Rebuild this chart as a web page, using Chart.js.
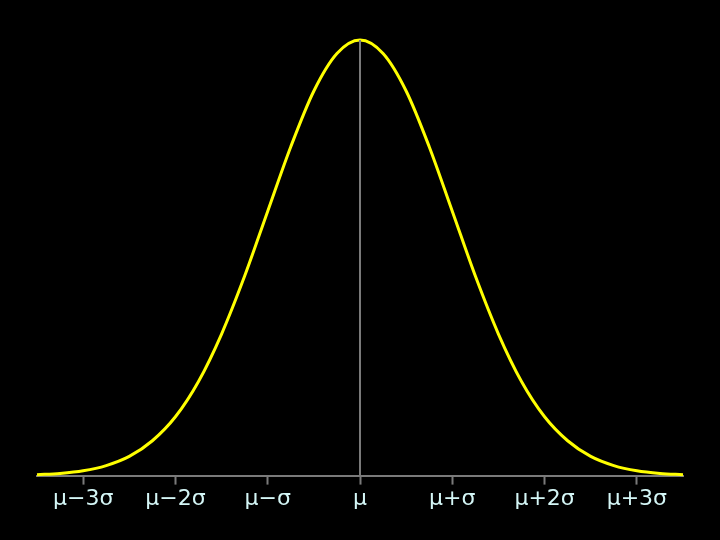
<!DOCTYPE html>
<html>
<head>
<meta charset="utf-8">
<script src="https://cdn.jsdelivr.net/npm/chart.js@4"></script>
<style>
  html, body { margin: 0; padding: 0; background: #000; }
  canvas { display: block; }
</style>
</head>
<body>
<canvas id="bellChart" width="720" height="540"></canvas>
<script>
// x in units of sigma, y relative to the peak height
const xValues = [-3.5, -3.25, -3.0, -2.75, -2.5, -2.25, -2.0, -1.75, -1.5, -1.25, -1.0, -0.75, -0.5, -0.25,
    0, 0.25, 0.5, 0.75, 1.0, 1.25, 1.5, 1.75, 2.0, 2.25, 2.5, 2.75, 3.0, 3.25, 3.5];
const yValues = [0.002, 0.005, 0.011, 0.023, 0.044, 0.080, 0.135, 0.216, 0.325, 0.458, 0.607, 0.755, 0.883, 0.969,
    1.0, 0.969, 0.883, 0.755, 0.607, 0.458, 0.325, 0.216, 0.135, 0.080, 0.044, 0.023, 0.011, 0.005, 0.002];
const tickValues = [-3, -2, -1, 0, 1, 2, 3];
const tickLabels = ['μ−3σ', 'μ−2σ', 'μ−σ', 'μ', 'μ+σ', 'μ+2σ', 'μ+3σ'];
const meanLineX = [0, 0];
const meanLineY = [0, 1];

const curvePoints = xValues.map((x, i) => ({ x: x, y: yValues[i] }));
const meanPoints = meanLineX.map((x, i) => ({ x: x, y: meanLineY[i] }));

const ctx = document.getElementById('bellChart').getContext('2d');
const bellChart = new Chart(ctx, {
    type: 'line',
    data: {
        datasets: [{
            data: meanPoints,
            borderColor: '#7a7a7a',
            borderWidth: 2,
            pointRadius: 0,
            clip: false
        }, {
            data: curvePoints,
            borderColor: '#ffff00',
            borderWidth: 3,
            pointRadius: 0,
            cubicInterpolationMode: 'monotone',
            clip: false
        }]
    },
    plugins: [{
        id: 'blackBg',
        beforeDraw(chart) {
            const c = chart.ctx;
            c.save();
            c.fillStyle = '#000';
            c.fillRect(0, 0, chart.width, chart.height);
            c.restore();
        }
    }],
    options: {
        responsive: false,
        animation: false,
        layout: { padding: { left: 37, right: 37, top: 40, bottom: 27 } },
        plugins: { legend: { display: false }, tooltip: { enabled: false } },
        scales: {
            x: {
                type: 'linear',
                min: -3.5,
                max: 3.5,
                afterBuildTicks(scale) {
                    scale.ticks = tickValues.map(v => ({ value: v }));
                },
                grid: {
                    drawOnChartArea: false,
                    drawTicks: true,
                    tickLength: 9,
                    tickWidth: 2,
                    tickColor: '#7a7a7a'
                },
                border: { color: '#7a7a7a', width: 2 },
                ticks: {
                    autoSkip: false,
                    maxRotation: 0,
                    padding: 1,
                    color: '#d4f6f6',
                    font: { family: 'DejaVu Sans', size: 22 },
                    callback: (value) => tickLabels[tickValues.indexOf(value)]
                }
            },
            y: {
                display: false,
                min: 0,
                max: 1
            }
        }
    }
});
</script>
</body>
</html>
